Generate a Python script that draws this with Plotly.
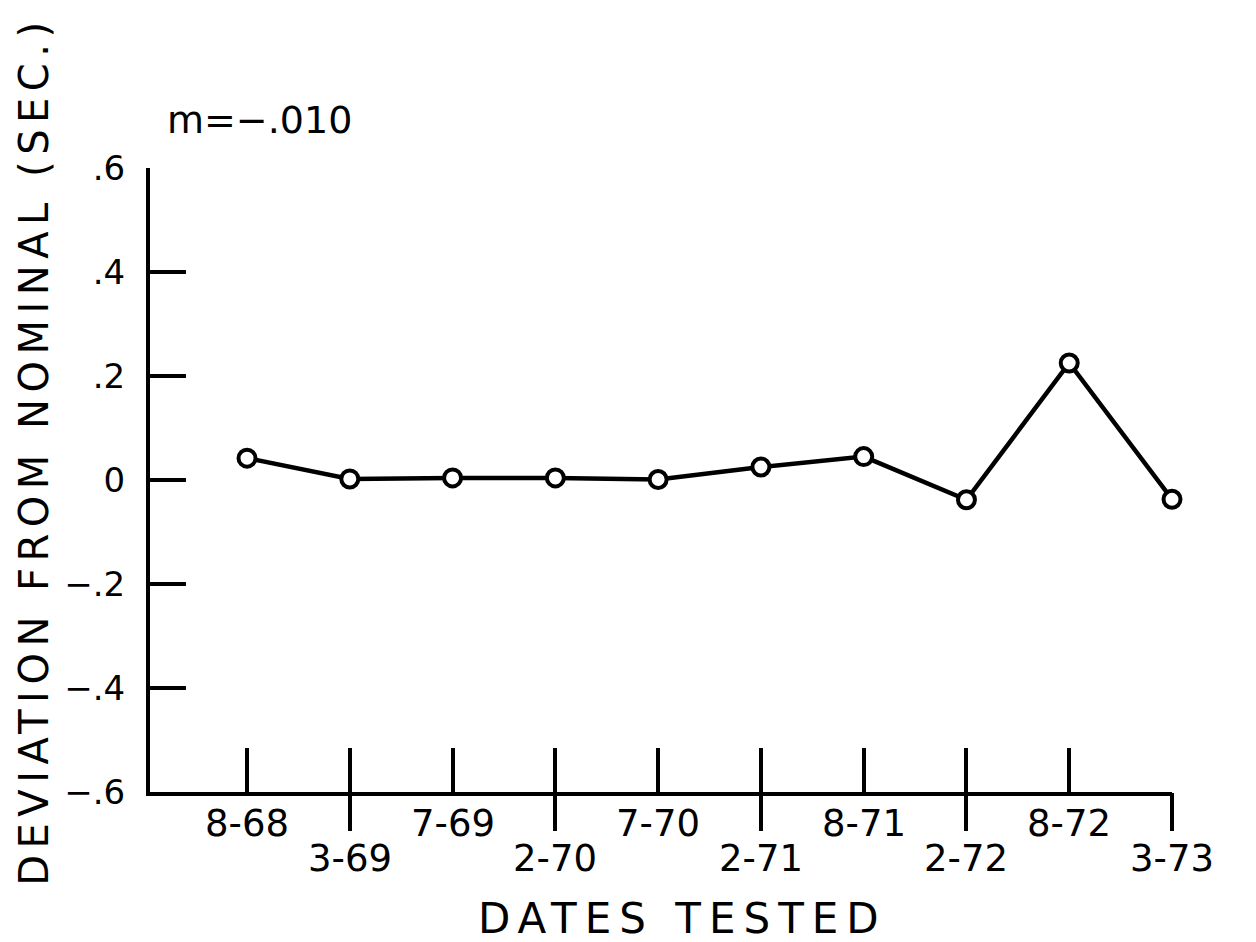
import plotly.graph_objects as go

dates = ["8-68", "3-69", "7-69", "2-70", "7-70", "2-71", "8-71", "2-72", "8-72", "3-73"]
deviation = [0.042, 0.002, 0.004, 0.004, 0.001, 0.025, 0.045, -0.038, 0.225, -0.037]
y_tick_vals = [0.6, 0.4, 0.2, 0.0, -0.2, -0.4, -0.6]
y_tick_text = [".6", ".4", ".2", "0", "−.2", "−.4", "−.6"]
slope_label = "m=−.010"

FONT = "DejaVu Sans"
idx = list(range(len(dates)))

fig = go.Figure()
fig.add_trace(go.Scatter(
    x=idx, y=deviation, mode="lines+markers",
    line=dict(color="black", width=4.5),
    marker=dict(symbol="circle", size=17, color="white",
                line=dict(color="black", width=4)),
    cliponaxis=False, showlegend=False, hoverinfo="skip",
))
# invisible trace to host the secondary (downward tick) axis
fig.add_trace(go.Scatter(x=[idx[1]], y=[0], xaxis="x2", mode="markers",
                         marker=dict(opacity=0), showlegend=False, hoverinfo="skip"))

xr = [-0.944, 9]
fig.update_layout(
    width=1256, height=942,
    paper_bgcolor="white", plot_bgcolor="white",
    margin=dict(l=142, r=92, t=160, b=158),
    font=dict(family=FONT, color="black"),
    xaxis=dict(range=xr, showgrid=False, zeroline=False, showline=True,
               linecolor="black", linewidth=4,
               tickvals=idx, ticks="inside", ticklen=44, tickwidth=3.5,
               tickcolor="black", showticklabels=False),
    xaxis2=dict(range=xr, overlaying="x", anchor="y", side="bottom",
                showgrid=False, zeroline=False, showline=False,
                tickvals=idx[1::2], ticks="outside", ticklen=38, tickwidth=3.5,
                tickcolor="black", showticklabels=False),
    yaxis=dict(range=[-0.6, 0.6], showgrid=False, zeroline=False,
               showline=True, linecolor="black", linewidth=4,
               tickvals=y_tick_vals, ticktext=y_tick_text,
               ticks="inside", ticklen=36, tickwidth=3.5, tickcolor="black",
               tickfont=dict(family=FONT, size=34), ticklabelstandoff=14),
)

# alternating date labels
for i, d in enumerate(dates):
    upper = (i % 2 == 0)
    fig.add_annotation(
        x=i, xref="x", y=-0.050 if upper else -0.106, yref="paper",
        text=d, showarrow=False, xanchor="center", yanchor="middle",
        font=dict(family=FONT, size=37),
    )

fig.add_annotation(
    x=0.5215, xref="paper", y=-0.203, yref="paper",
    text='<span style="letter-spacing:8px">DATES TESTED</span>',
    showarrow=False, xanchor="center", yanchor="middle",
    font=dict(family=FONT, size=42),
)
fig.add_annotation(
    x=-0.113, xref="paper", y=0.546, yref="paper",
    text='<span style="letter-spacing:6.5px">DEVIATION FROM NOMINAL (SEC.)</span>',
    textangle=-90, showarrow=False, xanchor="center", yanchor="middle",
    font=dict(family=FONT, size=40),
)
fig.add_annotation(
    x=0.015, xref="paper", y=1.077, yref="paper",
    text=slope_label, showarrow=False, xanchor="left", yanchor="middle",
    font=dict(family=FONT, size=38),
)

fig.write_html("out.html")
